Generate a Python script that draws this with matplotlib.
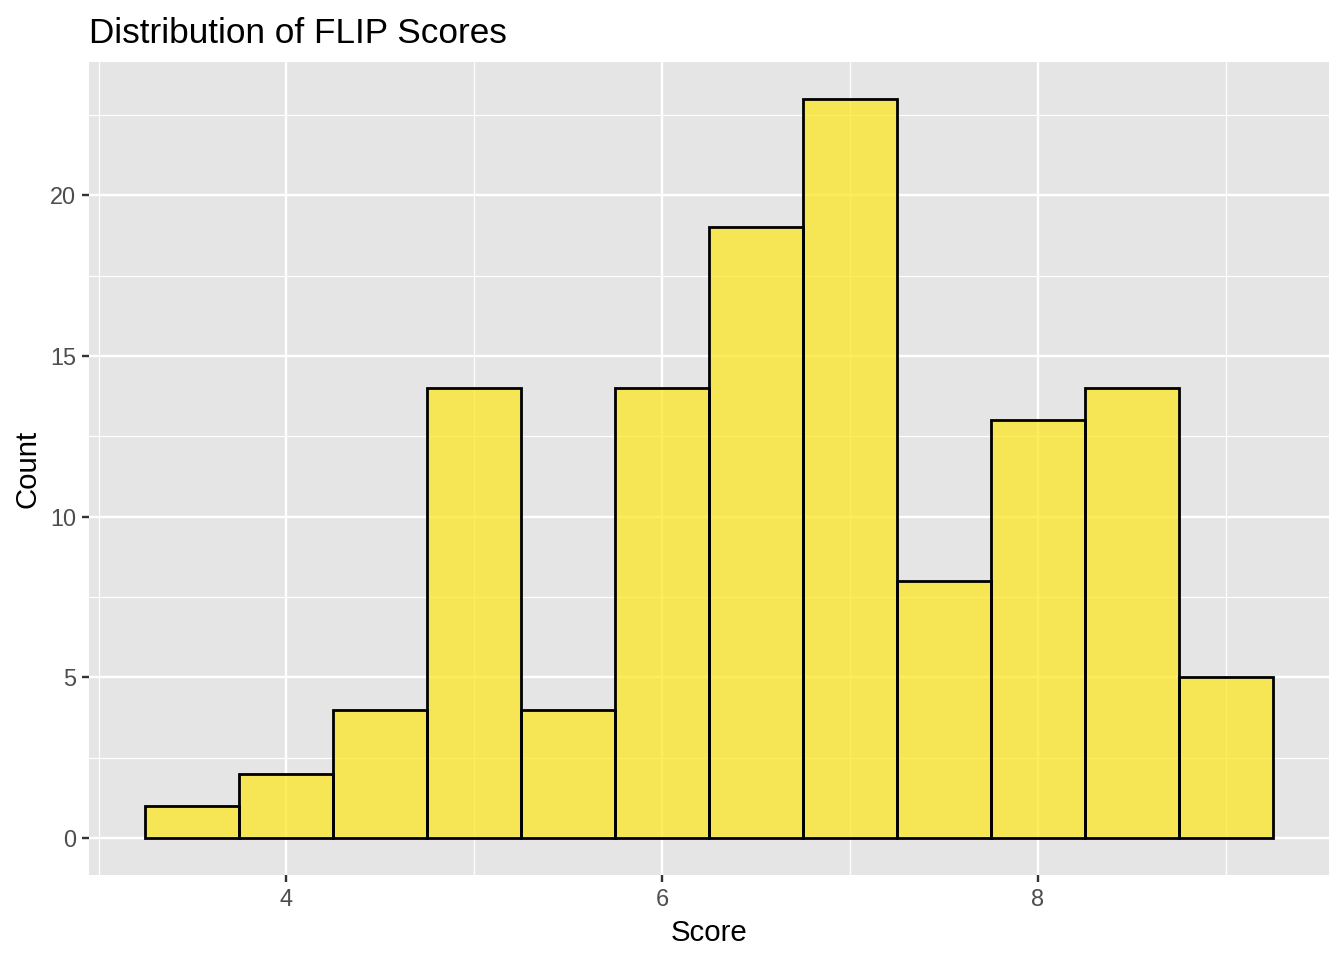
import numpy as np
from matplotlib import pyplot as plt

# histogram bins (width 0.5)
bin_edges = [3.25, 3.75, 4.25, 4.75, 5.25, 5.75, 6.25, 6.75, 7.25, 7.75, 8.25, 8.75, 9.25]
counts = [1, 2, 4, 14, 4, 14, 19, 23, 8, 13, 14, 5]
x_ticks = [4, 6, 8]
y_ticks = [0, 5, 10, 15, 20]

plt.rcParams["font.family"] = ["Liberation Sans", "DejaVu Sans"]

fig = plt.figure(figsize=(7, 5), dpi=192)
ax = fig.add_axes([0.0663, 0.0885, 0.9226, 0.847])
ax.set_facecolor("#E5E5E5")

edges = np.array(bin_edges)
ax.bar(edges[:-1], counts, width=np.diff(edges), align="edge",
       color="#FDE725", alpha=0.75, edgecolor="none", zorder=3)
ax.bar(edges[:-1], counts, width=np.diff(edges), align="edge",
       fill=False, edgecolor="black", linewidth=1.05, zorder=4)

# ggplot-like 5% expansion
span = edges[-1] - edges[0]
ax.set_xlim(edges[0] - 0.05 * span, edges[-1] + 0.05 * span)
ymax = max(counts)
ax.set_ylim(-0.05 * ymax, ymax * 1.05)

ax.set_xticks(x_ticks)
ax.set_yticks(y_ticks)
ax.set_xticks([3, 5, 7, 9], minor=True)
ax.set_yticks([2.5, 7.5, 12.5, 17.5, 22.5], minor=True)
ax.grid(True, which="major", color="white", linewidth=0.9, zorder=0)
ax.grid(True, which="minor", color="white", linewidth=0.45, zorder=0)
ax.set_axisbelow(True)
for s in ax.spines.values():
    s.set_visible(False)

ax.tick_params(axis="both", which="major", length=2.75, width=0.9, color="#333333",
               labelcolor="#4D4D4D", labelsize=8.8, pad=2.2)
ax.tick_params(axis="both", which="minor", length=0)

ax.set_xlabel("Score", fontsize=11, labelpad=3)
ax.set_ylabel("Count", fontsize=11, labelpad=3)
ax.set_title("Distribution of FLIP Scores", fontsize=13.2, loc="left", pad=7)

fig.savefig("out.png", dpi=192)
plt.close(fig)
